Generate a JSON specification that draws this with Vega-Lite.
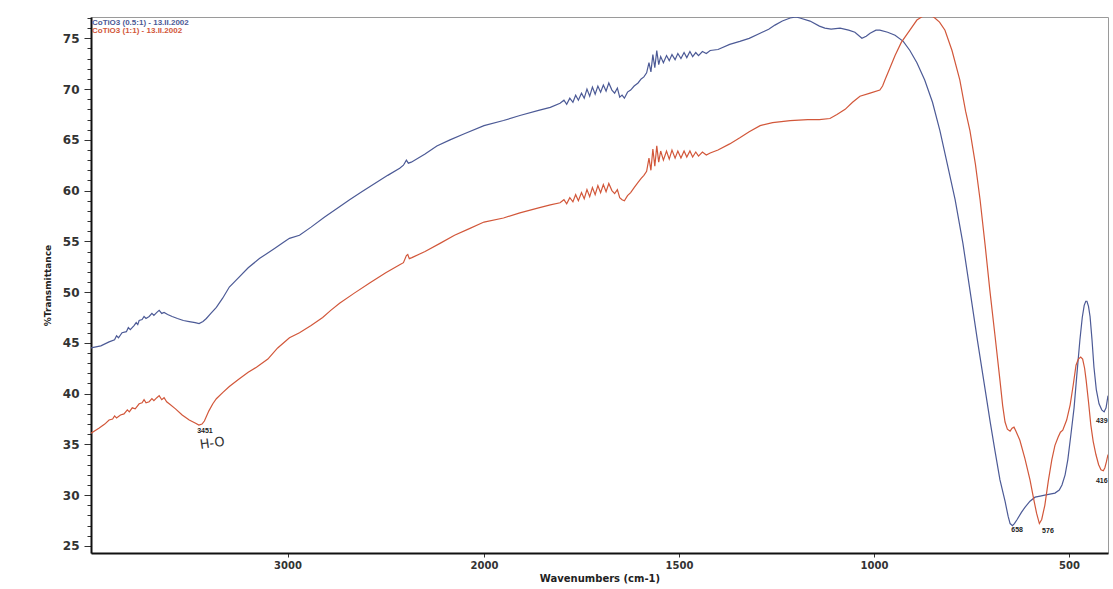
{
  "$schema": "https://vega.github.io/schema/vega-lite/v6.json",
  "width": 1017,
  "height": 536,
  "autosize": {"type": "none"},
  "padding": {"left": 91, "top": 17, "right": 5, "bottom": 36},
  "background": "white",
  "config": {"view": {"stroke": "#9a9a9a", "strokeWidth": 1}, "font": "DejaVu Sans"},
  "datasets": {
    "spectra": [
      {"s":"A","w":4000,"t":44.5},{"s":"A","w":3950,"t":44.7},{"s":"A","w":3908,"t":45.1},{"s":"A","w":3880,"t":45.3},{"s":"A","w":3870,"t":45.7},{"s":"A","w":3860,"t":45.5},{"s":"A","w":3842,"t":46.0},{"s":"A","w":3820,"t":46.1},{"s":"A","w":3810,"t":46.5},{"s":"A","w":3800,"t":46.3},{"s":"A","w":3781,"t":46.7},{"s":"A","w":3770,"t":47.0},{"s":"A","w":3762,"t":46.8},{"s":"A","w":3755,"t":47.2},{"s":"A","w":3740,"t":47.3},{"s":"A","w":3730,"t":47.6},{"s":"A","w":3720,"t":47.4},{"s":"A","w":3704,"t":47.6},{"s":"A","w":3690,"t":47.9},{"s":"A","w":3680,"t":47.7},{"s":"A","w":3665,"t":48.0},{"s":"A","w":3653,"t":48.2},{"s":"A","w":3640,"t":47.9},{"s":"A","w":3628,"t":48.0},{"s":"A","w":3610,"t":47.8},{"s":"A","w":3587,"t":47.6},{"s":"A","w":3560,"t":47.4},{"s":"A","w":3530,"t":47.2},{"s":"A","w":3500,"t":47.1},{"s":"A","w":3470,"t":47.0},{"s":"A","w":3450,"t":46.9},{"s":"A","w":3430,"t":47.1},{"s":"A","w":3413,"t":47.4},{"s":"A","w":3390,"t":47.9},{"s":"A","w":3362,"t":48.5},{"s":"A","w":3330,"t":49.4},{"s":"A","w":3296,"t":50.5},{"s":"A","w":3260,"t":51.2},{"s":"A","w":3200,"t":52.4},{"s":"A","w":3143,"t":53.3},{"s":"A","w":3066,"t":54.3},{"s":"A","w":3020,"t":54.9},{"s":"A","w":2990,"t":55.3},{"s":"A","w":2939,"t":55.6},{"s":"A","w":2880,"t":56.4},{"s":"A","w":2811,"t":57.4},{"s":"A","w":2750,"t":58.2},{"s":"A","w":2684,"t":59.1},{"s":"A","w":2620,"t":59.9},{"s":"A","w":2556,"t":60.7},{"s":"A","w":2490,"t":61.5},{"s":"A","w":2429,"t":62.2},{"s":"A","w":2410,"t":62.5},{"s":"A","w":2395,"t":63.0},{"s":"A","w":2385,"t":62.7},{"s":"A","w":2370,"t":62.8},{"s":"A","w":2300,"t":63.6},{"s":"A","w":2240,"t":64.4},{"s":"A","w":2173,"t":65.0},{"s":"A","w":2100,"t":65.6},{"s":"A","w":2000,"t":66.4},{"s":"A","w":1950,"t":66.9},{"s":"A","w":1908,"t":67.4},{"s":"A","w":1860,"t":67.9},{"s":"A","w":1830,"t":68.2},{"s":"A","w":1805,"t":68.6},{"s":"A","w":1795,"t":68.9},{"s":"A","w":1788,"t":68.5},{"s":"A","w":1780,"t":69.1},{"s":"A","w":1772,"t":68.7},{"s":"A","w":1765,"t":69.4},{"s":"A","w":1758,"t":68.9},{"s":"A","w":1750,"t":69.6},{"s":"A","w":1743,"t":69.1},{"s":"A","w":1736,"t":70.0},{"s":"A","w":1729,"t":69.3},{"s":"A","w":1722,"t":70.2},{"s":"A","w":1715,"t":69.5},{"s":"A","w":1708,"t":70.3},{"s":"A","w":1701,"t":69.7},{"s":"A","w":1694,"t":70.4},{"s":"A","w":1687,"t":69.8},{"s":"A","w":1680,"t":70.6},{"s":"A","w":1672,"t":69.9},{"s":"A","w":1665,"t":69.6},{"s":"A","w":1658,"t":70.1},{"s":"A","w":1652,"t":69.2},{"s":"A","w":1646,"t":69.4},{"s":"A","w":1640,"t":69.1},{"s":"A","w":1632,"t":69.7},{"s":"A","w":1624,"t":69.9},{"s":"A","w":1615,"t":70.3},{"s":"A","w":1605,"t":70.6},{"s":"A","w":1597,"t":71.0},{"s":"A","w":1590,"t":71.2},{"s":"A","w":1583,"t":71.6},{"s":"A","w":1577,"t":72.6},{"s":"A","w":1572,"t":71.7},{"s":"A","w":1567,"t":73.4},{"s":"A","w":1562,"t":72.1},{"s":"A","w":1557,"t":73.8},{"s":"A","w":1552,"t":72.4},{"s":"A","w":1547,"t":73.2},{"s":"A","w":1540,"t":72.6},{"s":"A","w":1532,"t":73.3},{"s":"A","w":1525,"t":72.8},{"s":"A","w":1518,"t":73.4},{"s":"A","w":1510,"t":72.9},{"s":"A","w":1503,"t":73.5},{"s":"A","w":1495,"t":73.0},{"s":"A","w":1487,"t":73.6},{"s":"A","w":1480,"t":73.1},{"s":"A","w":1472,"t":73.7},{"s":"A","w":1465,"t":73.2},{"s":"A","w":1457,"t":73.6},{"s":"A","w":1450,"t":73.3},{"s":"A","w":1440,"t":73.7},{"s":"A","w":1430,"t":73.5},{"s":"A","w":1420,"t":73.8},{"s":"A","w":1400,"t":73.9},{"s":"A","w":1370,"t":74.4},{"s":"A","w":1344,"t":74.7},{"s":"A","w":1320,"t":75.0},{"s":"A","w":1292,"t":75.5},{"s":"A","w":1270,"t":75.9},{"s":"A","w":1254,"t":76.3},{"s":"A","w":1235,"t":76.7},{"s":"A","w":1215,"t":77.0},{"s":"A","w":1200,"t":77.1},{"s":"A","w":1190,"t":77.0},{"s":"A","w":1164,"t":76.7},{"s":"A","w":1140,"t":76.2},{"s":"A","w":1126,"t":76.0},{"s":"A","w":1110,"t":75.9},{"s":"A","w":1087,"t":76.0},{"s":"A","w":1065,"t":75.8},{"s":"A","w":1049,"t":75.6},{"s":"A","w":1031,"t":75.0},{"s":"A","w":1020,"t":75.2},{"s":"A","w":1010,"t":75.5},{"s":"A","w":995,"t":75.8},{"s":"A","w":985,"t":75.8},{"s":"A","w":965,"t":75.6},{"s":"A","w":946,"t":75.3},{"s":"A","w":925,"t":74.7},{"s":"A","w":908,"t":73.8},{"s":"A","w":890,"t":72.6},{"s":"A","w":870,"t":70.9},{"s":"A","w":850,"t":68.7},{"s":"A","w":831,"t":65.9},{"s":"A","w":812,"t":62.6},{"s":"A","w":792,"t":59.1},{"s":"A","w":772,"t":54.8},{"s":"A","w":754,"t":50.2},{"s":"A","w":735,"t":45.3},{"s":"A","w":715,"t":40.4},{"s":"A","w":702,"t":37.2},{"s":"A","w":690,"t":34.4},{"s":"A","w":677,"t":31.5},{"s":"A","w":664,"t":29.4},{"s":"A","w":656,"t":27.9},{"s":"A","w":651,"t":27.2},{"s":"A","w":645,"t":27.0},{"s":"A","w":640,"t":27.2},{"s":"A","w":633,"t":27.6},{"s":"A","w":622,"t":28.3},{"s":"A","w":613,"t":28.8},{"s":"A","w":600,"t":29.4},{"s":"A","w":587,"t":29.8},{"s":"A","w":574,"t":29.9},{"s":"A","w":562,"t":30.0},{"s":"A","w":549,"t":30.1},{"s":"A","w":536,"t":30.2},{"s":"A","w":525,"t":30.5},{"s":"A","w":518,"t":31.0},{"s":"A","w":510,"t":32.0},{"s":"A","w":503,"t":33.5},{"s":"A","w":495,"t":36.0},{"s":"A","w":487,"t":38.6},{"s":"A","w":480,"t":41.8},{"s":"A","w":472,"t":45.3},{"s":"A","w":466,"t":47.5},{"s":"A","w":461,"t":48.7},{"s":"A","w":457,"t":49.1},{"s":"A","w":454,"t":49.1},{"s":"A","w":450,"t":48.6},{"s":"A","w":446,"t":47.6},{"s":"A","w":441,"t":45.3},{"s":"A","w":436,"t":42.6},{"s":"A","w":430,"t":40.4},{"s":"A","w":423,"t":39.0},{"s":"A","w":416,"t":38.4},{"s":"A","w":410,"t":38.2},{"s":"A","w":405,"t":38.6},{"s":"A","w":400,"t":39.8},
      {"s":"B","w":4000,"t":36.1},{"s":"B","w":3960,"t":36.6},{"s":"B","w":3930,"t":37.0},{"s":"B","w":3908,"t":37.4},{"s":"B","w":3890,"t":37.5},{"s":"B","w":3880,"t":37.8},{"s":"B","w":3870,"t":37.6},{"s":"B","w":3850,"t":37.9},{"s":"B","w":3832,"t":38.0},{"s":"B","w":3815,"t":38.4},{"s":"B","w":3805,"t":38.2},{"s":"B","w":3790,"t":38.6},{"s":"B","w":3775,"t":38.5},{"s":"B","w":3755,"t":39.0},{"s":"B","w":3740,"t":39.1},{"s":"B","w":3730,"t":39.4},{"s":"B","w":3720,"t":39.1},{"s":"B","w":3704,"t":39.2},{"s":"B","w":3690,"t":39.5},{"s":"B","w":3680,"t":39.3},{"s":"B","w":3665,"t":39.6},{"s":"B","w":3653,"t":39.8},{"s":"B","w":3640,"t":39.4},{"s":"B","w":3628,"t":39.6},{"s":"B","w":3615,"t":39.2},{"s":"B","w":3602,"t":39.0},{"s":"B","w":3570,"t":38.5},{"s":"B","w":3536,"t":37.9},{"s":"B","w":3500,"t":37.4},{"s":"B","w":3470,"t":37.1},{"s":"B","w":3451,"t":36.9},{"s":"B","w":3435,"t":37.0},{"s":"B","w":3423,"t":37.3},{"s":"B","w":3400,"t":38.3},{"s":"B","w":3380,"t":39.0},{"s":"B","w":3362,"t":39.5},{"s":"B","w":3330,"t":40.1},{"s":"B","w":3296,"t":40.7},{"s":"B","w":3250,"t":41.4},{"s":"B","w":3200,"t":42.1},{"s":"B","w":3158,"t":42.6},{"s":"B","w":3100,"t":43.4},{"s":"B","w":3050,"t":44.5},{"s":"B","w":2990,"t":45.5},{"s":"B","w":2939,"t":46.0},{"s":"B","w":2880,"t":46.7},{"s":"B","w":2821,"t":47.5},{"s":"B","w":2780,"t":48.2},{"s":"B","w":2735,"t":48.9},{"s":"B","w":2660,"t":49.9},{"s":"B","w":2582,"t":50.9},{"s":"B","w":2500,"t":51.9},{"s":"B","w":2429,"t":52.7},{"s":"B","w":2410,"t":52.9},{"s":"B","w":2395,"t":53.6},{"s":"B","w":2388,"t":53.7},{"s":"B","w":2380,"t":53.3},{"s":"B","w":2367,"t":53.4},{"s":"B","w":2300,"t":54.0},{"s":"B","w":2224,"t":54.8},{"s":"B","w":2150,"t":55.6},{"s":"B","w":2080,"t":56.2},{"s":"B","w":2000,"t":56.9},{"s":"B","w":1950,"t":57.3},{"s":"B","w":1908,"t":57.8},{"s":"B","w":1860,"t":58.3},{"s":"B","w":1830,"t":58.6},{"s":"B","w":1805,"t":58.8},{"s":"B","w":1795,"t":59.1},{"s":"B","w":1788,"t":58.7},{"s":"B","w":1780,"t":59.3},{"s":"B","w":1772,"t":58.9},{"s":"B","w":1765,"t":59.6},{"s":"B","w":1758,"t":59.0},{"s":"B","w":1750,"t":59.8},{"s":"B","w":1743,"t":59.2},{"s":"B","w":1736,"t":60.1},{"s":"B","w":1729,"t":59.4},{"s":"B","w":1722,"t":60.3},{"s":"B","w":1715,"t":59.6},{"s":"B","w":1708,"t":60.5},{"s":"B","w":1701,"t":59.8},{"s":"B","w":1694,"t":60.6},{"s":"B","w":1687,"t":59.9},{"s":"B","w":1680,"t":60.7},{"s":"B","w":1672,"t":60.0},{"s":"B","w":1665,"t":59.7},{"s":"B","w":1658,"t":60.1},{"s":"B","w":1652,"t":59.3},{"s":"B","w":1646,"t":59.1},{"s":"B","w":1640,"t":59.0},{"s":"B","w":1632,"t":59.5},{"s":"B","w":1624,"t":59.8},{"s":"B","w":1615,"t":60.3},{"s":"B","w":1605,"t":60.8},{"s":"B","w":1597,"t":61.2},{"s":"B","w":1590,"t":61.5},{"s":"B","w":1583,"t":61.9},{"s":"B","w":1577,"t":63.2},{"s":"B","w":1572,"t":62.0},{"s":"B","w":1567,"t":64.1},{"s":"B","w":1562,"t":62.4},{"s":"B","w":1557,"t":64.4},{"s":"B","w":1552,"t":62.8},{"s":"B","w":1547,"t":63.9},{"s":"B","w":1540,"t":63.0},{"s":"B","w":1532,"t":63.9},{"s":"B","w":1525,"t":63.1},{"s":"B","w":1518,"t":64.0},{"s":"B","w":1510,"t":63.2},{"s":"B","w":1503,"t":63.9},{"s":"B","w":1495,"t":63.2},{"s":"B","w":1487,"t":63.9},{"s":"B","w":1480,"t":63.3},{"s":"B","w":1472,"t":63.9},{"s":"B","w":1465,"t":63.3},{"s":"B","w":1457,"t":63.8},{"s":"B","w":1450,"t":63.4},{"s":"B","w":1440,"t":63.8},{"s":"B","w":1430,"t":63.5},{"s":"B","w":1420,"t":63.7},{"s":"B","w":1400,"t":64.0},{"s":"B","w":1370,"t":64.6},{"s":"B","w":1344,"t":65.2},{"s":"B","w":1320,"t":65.8},{"s":"B","w":1292,"t":66.4},{"s":"B","w":1260,"t":66.7},{"s":"B","w":1215,"t":66.9},{"s":"B","w":1170,"t":67.0},{"s":"B","w":1140,"t":67.0},{"s":"B","w":1113,"t":67.1},{"s":"B","w":1095,"t":67.5},{"s":"B","w":1074,"t":68.0},{"s":"B","w":1055,"t":68.7},{"s":"B","w":1036,"t":69.3},{"s":"B","w":1010,"t":69.6},{"s":"B","w":985,"t":69.9},{"s":"B","w":978,"t":70.3},{"s":"B","w":972,"t":70.9},{"s":"B","w":960,"t":72.0},{"s":"B","w":946,"t":73.3},{"s":"B","w":930,"t":74.6},{"s":"B","w":908,"t":75.8},{"s":"B","w":890,"t":76.8},{"s":"B","w":870,"t":77.3},{"s":"B","w":855,"t":77.3},{"s":"B","w":844,"t":77.0},{"s":"B","w":832,"t":76.6},{"s":"B","w":818,"t":75.8},{"s":"B","w":800,"t":73.8},{"s":"B","w":780,"t":70.9},{"s":"B","w":765,"t":67.8},{"s":"B","w":754,"t":65.9},{"s":"B","w":740,"t":62.6},{"s":"B","w":728,"t":59.1},{"s":"B","w":715,"t":54.6},{"s":"B","w":703,"t":50.2},{"s":"B","w":690,"t":45.8},{"s":"B","w":677,"t":41.3},{"s":"B","w":670,"t":38.8},{"s":"B","w":664,"t":37.2},{"s":"B","w":658,"t":36.5},{"s":"B","w":651,"t":36.3},{"s":"B","w":646,"t":36.6},{"s":"B","w":641,"t":36.7},{"s":"B","w":636,"t":36.3},{"s":"B","w":626,"t":35.4},{"s":"B","w":613,"t":33.6},{"s":"B","w":600,"t":31.5},{"s":"B","w":590,"t":29.5},{"s":"B","w":583,"t":28.2},{"s":"B","w":576,"t":27.2},{"s":"B","w":570,"t":27.6},{"s":"B","w":562,"t":29.0},{"s":"B","w":553,"t":31.4},{"s":"B","w":544,"t":33.5},{"s":"B","w":536,"t":34.9},{"s":"B","w":528,"t":35.7},{"s":"B","w":522,"t":36.2},{"s":"B","w":516,"t":36.4},{"s":"B","w":506,"t":37.4},{"s":"B","w":497,"t":38.9},{"s":"B","w":489,"t":40.9},{"s":"B","w":482,"t":42.8},{"s":"B","w":476,"t":43.4},{"s":"B","w":470,"t":43.6},{"s":"B","w":465,"t":43.4},{"s":"B","w":460,"t":42.5},{"s":"B","w":456,"t":41.3},{"s":"B","w":450,"t":39.2},{"s":"B","w":444,"t":36.9},{"s":"B","w":438,"t":35.3},{"s":"B","w":431,"t":34.0},{"s":"B","w":424,"t":33.0},{"s":"B","w":418,"t":32.5},{"s":"B","w":412,"t":32.4},{"s":"B","w":408,"t":32.7},{"s":"B","w":404,"t":33.3},{"s":"B","w":400,"t":34.0}
    ],
    "peaks": [
      {"w": 3420, "t": 36.3, "label": "3451"},
      {"w": 633, "t": 26.6, "label": "658"},
      {"w": 554, "t": 26.5, "label": "576"}
    ],
    "edge": [
      {"w": 401, "t": 37.3, "label": "439"},
      {"w": 401, "t": 31.4, "label": "416"}
    ],
    "hand": [
      {"w": 3383, "t": 35.1, "label": "H-O"}
    ],
    "legend": [
      {"s": "A", "w": 3995, "t": 76.5, "label": "CoTiO3 (0.5:1)  -  13.II.2002"},
      {"s": "B", "w": 3995, "t": 75.7, "label": "CoTiO3 (1:1)  -  13.II.2002"}
    ]
  },
  "encoding": {
    "x": {
      "field": "w", "type": "quantitative",
      "scale": {"domain": [4000, 2000, 400], "range": [0, 393, 1017]},
      "axis": {
        "values": [3000, 2000, 1500, 1000, 500],
        "format": "d",
        "title": "Wavenumbers (cm-1)",
        "titleFont": "DejaVu Sans", "titleFontSize": 10, "titleFontWeight": "bold", "titleColor": "#222", "titlePadding": 3,
        "labelFont": "DejaVu Sans", "labelFontSize": 10, "labelFontWeight": "bold", "labelColor": "#333", "labelPadding": 3,
        "domainColor": "#111", "domainWidth": 2, "tickColor": "#333", "tickSize": 4, "grid": false
      }
    },
    "y": {
      "field": "t", "type": "quantitative",
      "scale": {"domain": [24.3, 77.1], "nice": false, "zero": false},
      "axis": {
        "values": [25,26,27,28,29,30,31,32,33,34,35,36,37,38,39,40,41,42,43,44,45,46,47,48,49,50,51,52,53,54,55,56,57,58,59,60,61,62,63,64,65,66,67,68,69,70,71,72,73,74,75,76,77],
        "labelExpr": "datum.value % 5 === 0 ? datum.label : ''",
        "labelOverlap": false,
        "tickSize": {"condition": {"test": "datum.value % 5 === 0", "value": 7}, "value": 4},
        "title": "%Transmittance",
        "titleFont": "DejaVu Sans", "titleFontSize": 9, "titleFontWeight": "bold", "titleColor": "#222", "titlePadding": 10,
        "labelFont": "DejaVu Sans", "labelFontSize": 12, "labelFontWeight": "bold", "labelColor": "#333", "labelPadding": 5,
        "domainColor": "#111", "domainWidth": 2, "tickColor": "#333", "grid": false
      }
    }
  },
  "layer": [
    {
      "data": {"name": "spectra"},
      "mark": {"type": "line", "strokeWidth": 1.2, "clip": true},
      "encoding": {
        "color": {
          "field": "s", "type": "nominal",
          "scale": {"domain": ["A", "B"], "range": ["#4c5a96", "#d2573a"]},
          "legend": null
        }
      }
    },
    {
      "data": {"name": "peaks"},
      "mark": {"type": "text", "font": "Liberation Sans", "fontSize": 7, "fontWeight": "bold", "color": "#222", "align": "center", "baseline": "middle"},
      "encoding": {"text": {"field": "label"}}
    },
    {
      "data": {"name": "edge"},
      "mark": {"type": "text", "font": "Liberation Sans", "fontSize": 7, "fontWeight": "bold", "color": "#222", "align": "right", "baseline": "middle"},
      "encoding": {"text": {"field": "label"}}
    },
    {
      "data": {"name": "hand"},
      "mark": {"type": "text", "font": "DejaVu Sans", "fontSize": 13, "color": "#333", "align": "center", "baseline": "middle", "angle": 352},
      "encoding": {"text": {"field": "label"}}
    },
    {
      "data": {"name": "legend"},
      "mark": {"type": "text", "font": "Liberation Sans", "fontSize": 8, "fontWeight": "bold", "align": "left", "baseline": "middle"},
      "encoding": {
        "text": {"field": "label"},
        "color": {"field": "s", "type": "nominal", "legend": null}
      }
    }
  ]
}
